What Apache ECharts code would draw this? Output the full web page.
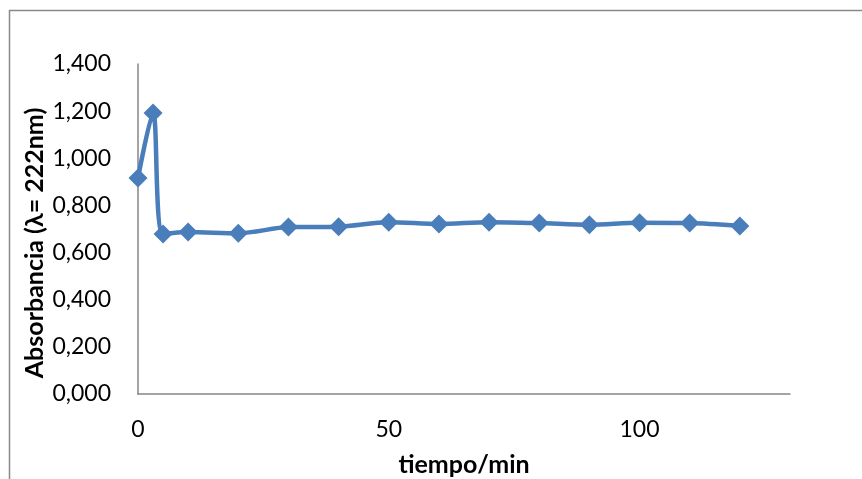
<!DOCTYPE html>
<html>
<head>
<meta charset="utf-8">
<script src="https://cdn.jsdelivr.net/npm/echarts@6/dist/echarts.min.js"></script>
<style>html,body{margin:0;padding:0;background:#fff}#c{width:862px;height:479px}</style>
</head>
<body>
<div id="c"></div>
<script>
const tiempo = [0, 3, 5, 10, 20, 30, 40, 50, 60, 70, 80, 90, 100, 110, 120];
const absorbancia = [0.916, 1.192, 0.679, 0.687, 0.682, 0.708, 0.710, 0.729, 0.721, 0.729, 0.725, 0.718, 0.727, 0.725, 0.713];
const xTitle = 'tiempo/min';
const yTitle = 'Absorbancia (λ= 222nm)';

const FONT = 'Lato, "Liberation Sans", sans-serif';
const chart = echarts.init(document.getElementById('c'), null, {renderer: 'canvas'});
chart.setOption({
  animation: false,
  backgroundColor: '#ffffff',
  grid: {left: 138, top: 64, right: 72, bottom: 85, containLabel: false},
  xAxis: {
    type: 'value', min: 0, max: 130, interval: 50,
    axisLine: {show: true, lineStyle: {color: '#868686', width: 1.5}},
    axisTick: {show: false},
    splitLine: {show: false},
    axisLabel: {showMaxLabel: false, color: '#000', fontFamily: FONT, fontSize: 23, margin: 24}
  },
  yAxis: {
    type: 'value', min: 0, max: 1.4, interval: 0.2,
    axisLine: {show: true, lineStyle: {color: '#868686', width: 1.5}},
    axisTick: {show: false},
    splitLine: {show: false},
    axisLabel: {
      color: '#000', fontFamily: FONT, fontSize: 23, margin: 27,
      formatter: v => v.toFixed(3).replace('.', ',')
    }
  },
  graphic: [
    {type: 'rect', shape: {x: 9.5, y: 10.5, width: 1000, height: 600}, style: {fill: 'none', stroke: '#898989', lineWidth: 1.5}, z: -1, silent: true},
    {type: 'text', x: 464, y: 465, style: {text: xTitle, fontFamily: FONT, fontWeight: 'bold', fontSize: 25, fill: '#000', textAlign: 'center', textVerticalAlign: 'middle'}},
    {type: 'text', x: 35, y: 243, rotation: Math.PI / 2, style: {text: yTitle, fontFamily: FONT, fontWeight: 'bold', fontSize: 25, fill: '#000', textAlign: 'center', textVerticalAlign: 'middle'}}
  ],
  series: [{
    type: 'line',
    data: tiempo.map((t, i) => [t, absorbancia[i]]),
    smooth: 0.3,
    symbol: 'diamond',
    symbolSize: 19,
    lineStyle: {color: '#4a7ebb', width: 4.5},
    itemStyle: {color: '#4a7ebb'}
  }]
});
</script>
</body>
</html>
